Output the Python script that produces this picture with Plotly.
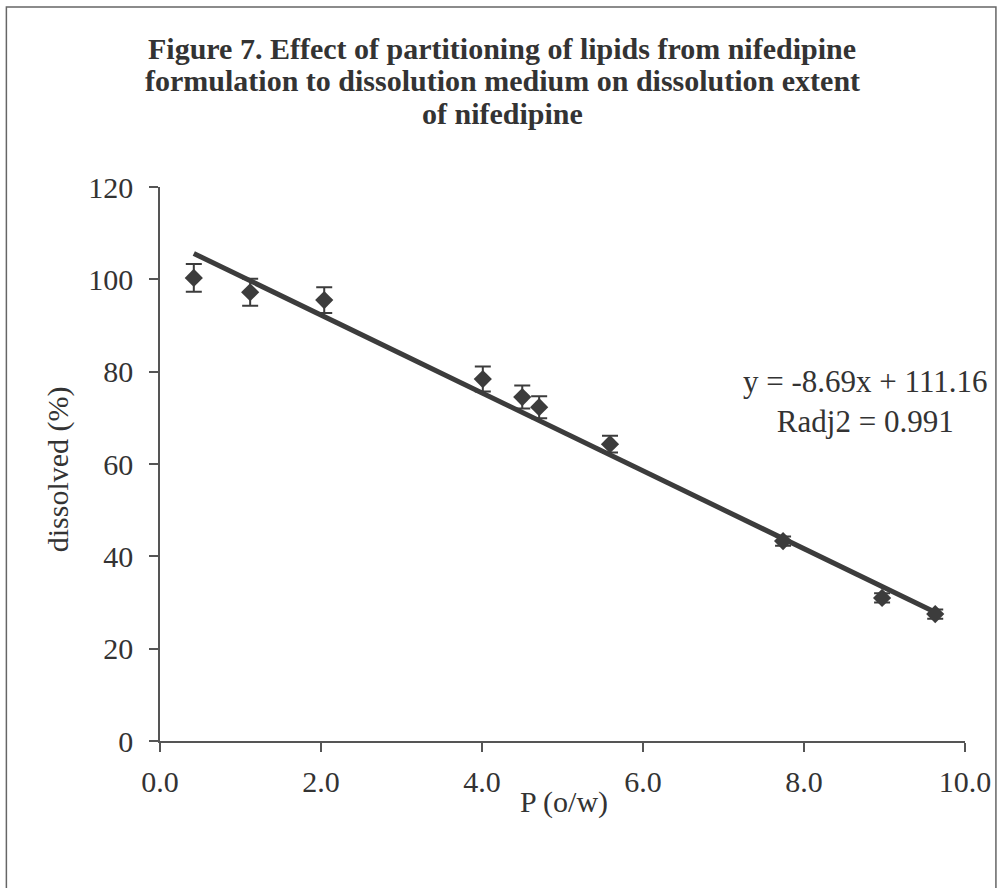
import plotly.graph_objects as go

# Data
p_ow = [0.42, 1.12, 2.04, 4.01, 4.50, 4.71, 5.59, 7.74, 8.97, 9.63]
dissolved = [100.3, 97.2, 95.5, 78.4, 74.5, 72.3, 64.3, 43.3, 31.0, 27.5]
err = [3.0, 2.9, 2.8, 2.7, 2.5, 2.4, 1.8, 1.0, 1.0, 1.0]

trend_x = [0.42, 9.63]
trend_y = [105.6, 27.9]

x_ticks = [0, 2, 4, 6, 8, 10]
y_ticks = [0, 20, 40, 60, 80, 100, 120]

title_lines = ["Figure 7. Effect of partitioning of lipids from nifedipine",
               "formulation to dissolution medium on dissolution extent",
               "of nifedipine"]
title_y_px = [48, 81, 114]
eq_text = "y = -8.69x + 111.16<br>Radj2 = 0.991"

FONT = "Liberation Serif"
DARK = "#3c3c3c"
L, T, W, H = 160, 187, 807, 554


def px(xp):
    return (xp - L) / W


def py(yp):
    return (T + H - yp) / H


fig = go.Figure()
fig.add_trace(go.Scatter(x=trend_x, y=trend_y, mode="lines",
                         line=dict(color=DARK, width=5), showlegend=False))
fig.add_trace(go.Scatter(x=p_ow, y=dissolved, mode="markers",
                         marker=dict(symbol="diamond", size=14, color=DARK),
                         error_y=dict(type="data", array=err, visible=True,
                                      color=DARK, thickness=2, width=8),
                         showlegend=False))

fig.update_layout(
    width=1003, height=888,
    margin=dict(l=L, r=1003 - L - W, t=T, b=888 - T - H),
    paper_bgcolor="white", plot_bgcolor="white",
    font=dict(family=FONT, size=30, color="#333333"),
    xaxis=dict(range=[0, 10], tickvals=x_ticks, tickformat=".1f",
               showgrid=False, zeroline=False, showline=True,
               linecolor="#555555", linewidth=1.5, ticks="outside",
               ticklen=9, tickcolor="#555555", tickwidth=1.5,
               ticklabelstandoff=4, tickfont=dict(size=30)),
    yaxis=dict(range=[0, 120], tickvals=y_ticks, showgrid=False,
               zeroline=False, showline=True, linecolor="#555555",
               linewidth=1.5, ticks="outside", ticklen=9,
               tickcolor="#555555", tickwidth=1.5, ticklabelstandoff=10,
               tickfont=dict(size=30)),
)

for line, yp in zip(title_lines, title_y_px):
    fig.add_annotation(text="<b>" + line + "</b>", xref="paper", yref="paper",
                       x=px(503), y=py(yp), showarrow=False,
                       font=dict(size=30, color="#333333"),
                       xanchor="center", yanchor="middle")

fig.add_annotation(text="P (o/w)", xref="paper", yref="paper",
                   x=px(565), y=py(802),
                   showarrow=False, font=dict(size=30),
                   xanchor="center", yanchor="middle")
fig.add_annotation(text="dissolved (%)", xref="paper", yref="paper",
                   x=px(58), y=py(469), textangle=-90,
                   showarrow=False, font=dict(size=30),
                   xanchor="center", yanchor="middle")
fig.add_annotation(text=eq_text, xref="paper", yref="paper",
                   x=px(867), y=py(401),
                   showarrow=False, font=dict(size=31), align="center",
                   xanchor="center", yanchor="middle")

fig.add_shape(type="rect", xref="paper", yref="paper",
              x0=px(6), x1=px(998), y0=py(900), y1=py(7),
              line=dict(color="#666666", width=1.5))

fig.write_html("out.html")
